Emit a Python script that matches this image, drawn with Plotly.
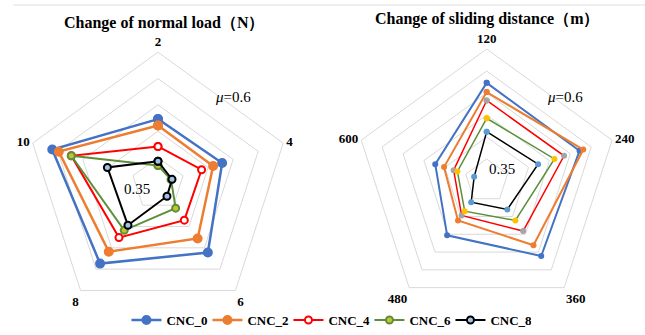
import plotly.graph_objects as go

left_cats = ["2", "4", "6", "8", "10"]
right_cats = ["120", "240", "360", "480", "600"]
series_names = ["CNC_0", "CNC_2", "CNC_4", "CNC_6", "CNC_8"]

left_vals = {
    "CNC_0": [0.473, 0.478, 0.511, 0.537, 0.561],
    "CNC_2": [0.461, 0.460, 0.478, 0.509, 0.548],
    "CNC_4": [0.421, 0.437, 0.435, 0.476, 0.523],
    "CNC_6": [0.385, 0.376, 0.407, 0.459, 0.523],
    "CNC_8": [0.393, 0.378, 0.379, 0.447, 0.451],
}
right_vals = {
    "CNC_0": [0.573, 0.572, 0.561, 0.503, 0.473],
    "CNC_2": [0.552, 0.581, 0.531, 0.461, 0.452],
    "CNC_4": [0.533, 0.535, 0.491, 0.447, 0.429],
    "CNC_6": [0.4925, 0.512, 0.461, 0.435, 0.420],
    "CNC_8": [0.462, 0.473, 0.430, 0.410, 0.380],
}

line_colors = ["#4472C4", "#ED7D31", "#FF0000", "#5B8F3A", "#000000"]
left_marker_fill = ["#4472C4", "#ED7D31", "#FFFFFF", "#C9C230", "#9DC3E6"]
left_marker_line = ["#4472C4", "#ED7D31", "#FF0000", "#5B8F3A", "#000000"]
left_marker_size = [8, 8, 7, 7, 7]
line_widths = [2.5, 2.5, 2, 2, 2]
right_marker_fill = ["#4472C4", "#ED7D31", "#A5A5A5", "#FFC000", "#5B9BD5"]

SERIF = "Liberation Serif, Times New Roman, serif"

fig = go.Figure()

for i, name in enumerate(series_names):
    r = left_vals[name] + left_vals[name][:1]
    th = left_cats + left_cats[:1]
    fig.add_trace(go.Scatterpolar(
        r=r, theta=th, name=name, mode="lines+markers", subplot="polar",
        line=dict(color=line_colors[i], width=line_widths[i]),
        marker=dict(size=left_marker_size[i], color=left_marker_fill[i],
                    line=dict(color=left_marker_line[i], width=2)),
        showlegend=True,
    ))

for i, name in enumerate(series_names):
    r = right_vals[name] + right_vals[name][:1]
    th = right_cats + right_cats[:1]
    fig.add_trace(go.Scatterpolar(
        r=r, theta=th, name=name, mode="lines+markers", subplot="polar2",
        line=dict(color=line_colors[i], width=line_widths[i] - 0.5),
        marker=dict(size=6, color=right_marker_fill[i], line=dict(width=0)),
        showlegend=False,
    ))

grid = "#D9D9D9"
def polar_cfg(domain_x, domain_y, rng, cats):
    return dict(
        domain=dict(x=domain_x, y=domain_y),
        gridshape="linear",
        bgcolor="white",
        radialaxis=dict(range=rng, dtick=0.05, tick0=0.35, showticklabels=False,
                        ticks="", showline=False, gridcolor=grid, gridwidth=1),
        angularaxis=dict(type="category", categoryorder="array", categoryarray=cats,
                         rotation=90, direction="clockwise", showgrid=False,
                         showline=True, linecolor=grid, linewidth=1, ticks="",
                         tickfont=dict(family=SERIF, size=13, color="black", weight="bold")),
    )

fig.update_layout(
    width=645, height=335,
    margin=dict(l=0, r=0, t=0, b=0),
    paper_bgcolor="white", plot_bgcolor="white",
    polar=polar_cfg([0.0395, 0.4504], [0.0522, 0.8433], [0.35, 0.60], left_cats),
    polar2=polar_cfg([0.5488, 0.9603], [0.0606, 0.8528], [0.35, 0.65], right_cats),
    legend=dict(orientation="h", x=0.51, xanchor="center", y=1 - 322 / 335, yanchor="middle",
                font=dict(family=SERIF, size=13, color="black", weight="bold"),
                bgcolor="rgba(0,0,0,0)", itemwidth=30, tracegroupgap=0,
                entrywidth=36, entrywidthmode="pixels"),
    showlegend=True,
)

annots = [
    dict(x=164 / 645, y=1 - 23 / 335, text="Change of normal load（N）",
         font=dict(family=SERIF, size=16, color="black", weight="bold")),
    dict(x=487 / 645, y=1 - 19 / 335, text="Change of sliding distance（m）",
         font=dict(family=SERIF, size=16, color="black", weight="bold")),
    dict(x=233 / 645, y=1 - 98 / 335, text="<i>μ</i>=0.6",
         font=dict(family=SERIF, size=15, color="black")),
    dict(x=565 / 645, y=1 - 98 / 335, text="<i>μ</i>=0.6",
         font=dict(family=SERIF, size=15, color="black")),
    dict(x=137 / 645, y=1 - 190 / 335, text="0.35",
         font=dict(family=SERIF, size=15, color="black")),
    dict(x=502 / 645, y=1 - 170 / 335, text="0.35",
         font=dict(family=SERIF, size=15, color="black")),
]
for a in annots:
    fig.add_annotation(xref="paper", yref="paper", showarrow=False,
                       xanchor="center", yanchor="middle", **a)

fig.add_shape(type="line", xref="paper", yref="paper",
              x0=13 / 645, x1=1, y0=1 - 5 / 335, y1=1 - 5 / 335,
              line=dict(color="#E0E0E0", width=1))

fig.write_html("out.html", config={"displayModeBar": False},
               post_script="document.body.style.margin='0px';document.body.style.padding='0px';")
